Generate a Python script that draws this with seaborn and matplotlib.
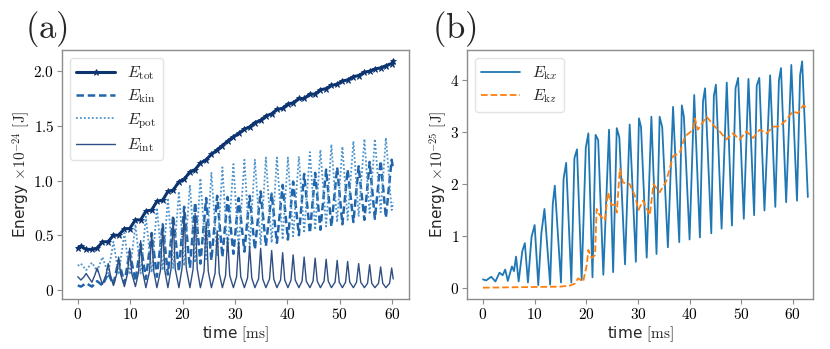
import matplotlib
matplotlib.use("Agg")
import matplotlib.pyplot as plt
from matplotlib.ticker import FuncFormatter
import seaborn as sns

# ---------------- data (a): energies x 1e-24 J vs time [ms] ----------------
t_a = [0, 0.6, 1.6, 2.7, 3.7, 4.7, 5.8, 6.8, 7.8, 8.9, 9.9, 11.0, 12.0, 13.0,
       14.1, 15.1, 16.2, 17.2, 18.2, 19.3, 20.3, 21.4, 22.4, 23.4, 24.5, 25.5,
       26.6, 27.6, 28.6, 29.7, 30.7, 31.8, 32.8, 33.8, 34.9, 35.9, 37.0, 38.0,
       39.1, 40.1, 41.1, 42.2, 43.2, 44.3, 45.3, 46.3, 47.4, 48.4, 49.5, 50.5,
       51.5, 52.6, 53.6, 54.7, 55.7, 56.7, 57.8, 58.8, 59.9, 60.2]

e_tot = [0.38, 0.40, 0.37, 0.37, 0.38, 0.44, 0.44, 0.50, 0.50, 0.56, 0.56, 0.64,
         0.64, 0.72, 0.73, 0.81, 0.82, 0.90, 0.91, 0.99, 1.01, 1.08, 1.10, 1.16,
         1.19, 1.24, 1.28, 1.32, 1.36, 1.40, 1.43, 1.47, 1.49, 1.53, 1.55, 1.59,
         1.61, 1.65, 1.66, 1.70, 1.71, 1.75, 1.75, 1.79, 1.79, 1.83, 1.84, 1.87,
         1.88, 1.91, 1.92, 1.95, 1.96, 1.99, 2.00, 2.02, 2.03, 2.05, 2.07, 2.09]

e_kin = [0.04, 0.03, 0.06, 0.03, 0.08, 0.04, 0.15, 0.05, 0.27, 0.06, 0.35, 0.08,
         0.42, 0.10, 0.52, 0.12, 0.60, 0.14, 0.68, 0.17, 0.76, 0.20, 0.80, 0.24,
         0.84, 0.27, 0.86, 0.30, 0.85, 0.33, 0.84, 0.35, 0.86, 0.37, 0.90, 0.40,
         0.88, 0.43, 0.96, 0.46, 0.99, 0.50, 1.06, 0.52, 1.07, 0.55, 1.10, 0.58,
         1.12, 0.60, 1.10, 0.62, 1.13, 0.64, 1.17, 0.65, 1.18, 0.66, 1.19, 1.10]

e_pot = [0.22, 0.24, 0.18, 0.25, 0.17, 0.30, 0.15, 0.44, 0.14, 0.52, 0.14, 0.60,
         0.15, 0.67, 0.16, 0.75, 0.18, 0.84, 0.20, 0.90, 0.22, 0.96, 0.25, 1.02,
         0.28, 1.07, 0.31, 1.12, 0.34, 1.15, 0.37, 1.19, 0.39, 1.19, 0.41, 1.21,
         0.43, 1.21, 0.46, 1.21, 0.49, 1.22, 0.52, 1.26, 0.55, 1.28, 0.58, 1.33,
         0.62, 1.31, 0.64, 1.36, 0.67, 1.38, 0.69, 1.38, 0.71, 1.39, 0.73, 0.80]

t_int = [0, 0.6,
         1.2, 1.6, 2.0, 2.7, 3.3, 3.7, 4.1, 4.7, 5.4, 5.8, 6.2, 6.8,
         7.4, 7.8, 8.2, 8.9, 9.5, 9.9, 10.3, 11.0, 11.6, 12.0, 12.4, 13.0,
         13.7, 14.1, 14.5, 15.1, 15.8, 16.2, 16.6, 17.2, 17.8, 18.2, 18.6, 19.3,
         19.9, 20.3, 20.7, 21.4, 22.0, 22.4, 22.8, 23.4, 24.1, 24.5, 24.9, 25.5,
         26.2, 26.6, 27.0, 27.6, 28.2, 28.6, 29.0, 29.7, 30.3, 30.7, 31.1, 31.8,
         32.4, 32.8, 33.2, 33.8, 34.5, 34.9, 35.3, 35.9, 36.6, 37.0, 37.4, 38.0,
         38.7, 39.1, 39.5, 40.1, 40.7, 41.1, 41.5, 42.2, 42.8, 43.2, 43.6, 44.3,
         44.9, 45.3, 45.7, 46.3, 47.0, 47.4, 47.8, 48.4, 49.1, 49.5, 49.9, 50.5,
         51.1, 51.5, 51.9, 52.6, 53.2, 53.6, 54.0, 54.7, 55.3, 55.7, 56.1, 56.7,
         57.4, 57.8, 58.2, 58.8, 59.5, 59.9, 60.2]

e_int = [0.12, 0.09,
         0.12, 0.15, 0.12, 0.07, 0.14, 0.20, 0.14, 0.05, 0.14, 0.24, 0.14, 0.04,
         0.14, 0.30, 0.14, 0.03, 0.15, 0.38, 0.15, 0.03, 0.16, 0.45, 0.16, 0.02,
         0.17, 0.52, 0.17, 0.02, 0.18, 0.58, 0.18, 0.02, 0.19, 0.66, 0.19, 0.02,
         0.20, 0.72, 0.20, 0.02, 0.19, 0.70, 0.19, 0.02, 0.17, 0.62, 0.17, 0.02,
         0.15, 0.54, 0.15, 0.02, 0.13, 0.48, 0.13, 0.02, 0.12, 0.44, 0.12, 0.02,
         0.11, 0.40, 0.11, 0.02, 0.10, 0.38, 0.10, 0.02, 0.10, 0.36, 0.10, 0.02,
         0.09, 0.34, 0.09, 0.02, 0.09, 0.32, 0.09, 0.02, 0.08, 0.30, 0.08, 0.02,
         0.08, 0.29, 0.08, 0.02, 0.08, 0.28, 0.08, 0.02, 0.07, 0.27, 0.07, 0.02,
         0.07, 0.26, 0.07, 0.02, 0.07, 0.24, 0.07, 0.02, 0.06, 0.23, 0.06, 0.02,
         0.06, 0.21, 0.06, 0.02, 0.06, 0.20, 0.10]

# ---------------- data (b): energies x 1e-25 J vs time [ms] ----------------
t_kx = [0, 0.6, 1.6, 2.4, 3.2, 3.8, 4.3, 4.8, 5.6, 6.0, 6.4, 6.9, 7.6, 8.1,
        8.7, 9.4, 10.0, 10.7, 11.3, 11.9, 13.0, 13.5, 13.9, 15.1, 15.6, 16.1,
        17.1, 17.7, 18.2, 19.1, 19.9, 20.4, 21.2, 21.8, 22.3, 23.3, 24.4, 25.2,
        25.9, 26.4, 27.5, 28.4, 29.6, 30.2, 30.6, 31.7, 32.6, 33.6, 34.2, 34.7,
        35.8, 36.8, 38.0, 38.5, 38.9, 40.0, 40.9, 42.0, 42.6, 43.0, 44.2, 44.7,
        45.1, 46.2, 47.2, 48.2, 48.9, 49.4, 50.5, 51.4, 52.5, 53.0, 53.5, 54.5,
        55.6, 56.6, 57.3, 57.7, 58.7, 59.7, 60.8, 61.4, 61.8, 62.9]
e_kx = [0.16, 0.14, 0.21, 0.12, 0.29, 0.24, 0.35, 0.13, 0.41, 0.32, 0.60, 0.12,
        0.70, 0.86, 0.10, 0.98, 1.21, 0.05, 1.05, 1.52, 0.06, 1.60, 1.97, 0.10,
        2.10, 2.41, 0.10, 2.50, 2.67, 0.15, 2.70, 2.98, 0.20, 2.95, 2.85, 0.25,
        3.05, 0.30, 3.08, 2.90, 0.45, 3.15, 0.50, 3.27, 3.10, 0.58, 3.30, 0.65,
        3.30, 3.10, 0.78, 3.49, 0.88, 3.52, 3.30, 0.93, 3.72, 0.97, 3.60, 3.85,
        1.05, 3.70, 3.92, 1.14, 3.96, 1.20, 3.85, 4.05, 1.33, 4.03, 1.40, 3.90,
        4.05, 1.49, 4.10, 1.56, 4.00, 4.24, 1.65, 4.30, 1.68, 4.10, 4.37, 1.75]

t_kz = [0, 14.9, 16.8, 17.8, 18.4, 19.4, 20.1, 20.4, 21.0, 21.7, 22.0, 22.6,
        23.6, 24.2, 24.9, 25.5, 25.9, 26.5, 27.1, 28.4, 29.4, 30.1, 31.0, 32.3,
        33.0, 34.2, 35.5, 36.8, 38.1, 39.1, 40.7, 41.0, 41.6, 43.3, 44.6, 45.8,
        47.1, 48.4, 49.7, 51.0, 52.3, 53.6, 54.9, 56.2, 57.4, 58.7, 60.0, 61.0,
        62.0, 62.9]
e_kz = [0.0, 0.02, 0.04, 0.08, 0.18, 0.12, 0.44, 0.73, 0.57, 0.63, 1.52, 1.40,
        1.30, 1.84, 1.60, 1.60, 1.45, 2.29, 2.03, 2.00, 1.78, 1.50, 1.68, 1.40,
        2.00, 1.84, 2.06, 2.54, 2.60, 2.92, 3.05, 3.27, 3.05, 3.30, 3.14, 3.02,
        2.86, 2.98, 2.86, 3.02, 2.89, 3.05, 2.98, 3.11, 3.11, 3.24, 3.40, 3.37,
        3.52, 3.46]

x_ticks = [0, 10, 20, 30, 40, 50, 60]
y_ticks_a = [0, 0.5, 1.0, 1.5, 2.0]
y_ticks_b = [0, 1, 2, 3, 4]

# ---------------- style ----------------
sns.set_theme(style="ticks")
plt.rcParams["font.family"] = ["DejaVu Sans"]
plt.rcParams["mathtext.fontset"] = "cm"
plt.rcParams["axes.edgecolor"] = "#8c8c8c"
plt.rcParams["xtick.color"] = "#8c8c8c"
plt.rcParams["ytick.color"] = "#8c8c8c"
plt.rcParams["xtick.labelcolor"] = "black"
plt.rcParams["ytick.labelcolor"] = "black"

fig = plt.figure(figsize=(8.3, 3.49), dpi=100)
ax_a = fig.add_axes([62 / 830, 50 / 349, 347 / 830, 249 / 349])
ax_b = fig.add_axes([467 / 830, 50 / 349, 346 / 830, 249 / 349])

c_tot, c_kin, c_pot, c_int = "#0c3470", "#2166ac", "#4d94cc", "#2f4f82"

sns.lineplot(x=t_a, y=e_tot, ax=ax_a, color=c_tot, lw=2.2, marker="*",
             markersize=4.5, markeredgewidth=0.6, markeredgecolor=c_tot,
             markerfacecolor=c_tot, label=r"$E_{\rm tot}$")
sns.lineplot(x=t_a, y=e_kin, ax=ax_a, color=c_kin, lw=1.8, ls=(0, (3, 1.5)),
             label=r"$E_{\rm kin}$")
sns.lineplot(x=t_a, y=e_pot, ax=ax_a, color=c_pot, lw=1.3, ls=(0, (1, 1.2)),
             label=r"$E_{\rm pot}$")
sns.lineplot(x=t_int, y=e_int, ax=ax_a, color=c_int, lw=1.0,
             label=r"$E_{\rm int}$")

sns.lineplot(x=t_kx, y=e_kx, ax=ax_b, color="#1f77b4", lw=1.3,
             label=r"$E_{{\rm k}x}$")
sns.lineplot(x=t_kz, y=e_kz, ax=ax_b, color="#ff7f0e", lw=1.3, ls="--",
             label=r"$E_{{\rm k}z}$")
ax_b.set_xlim(-3.1, 63.9)


def fmt_a(v, pos):
    return "$0$" if v == 0 else "$%.1f$" % v


def fmt_int(v, pos):
    return "$%d$" % v


for ax, yt, fmt, exp in [(ax_a, y_ticks_a, fmt_a, "-24"), (ax_b, y_ticks_b, fmt_int, "-25")]:
    ax.set_xticks(x_ticks)
    ax.set_yticks(yt)
    ax.xaxis.set_major_formatter(FuncFormatter(fmt_int))
    ax.yaxis.set_major_formatter(FuncFormatter(fmt))
    ax.tick_params(labelsize=11, length=3.5, width=0.8, pad=2)
    ax.set_xlabel(r"time $[\mathrm{ms}]$", fontsize=11, labelpad=2)
    ax.set_ylabel(r"Energy $\times 10^{%s}\ [\mathrm{J}]$" % exp, fontsize=11,
                  labelpad=1)
    for s in ax.spines.values():
        s.set_visible(True)
        s.set_linewidth(1.0)
    ax.legend(loc="upper left", fontsize=11.5, handlelength=2.4,
              labelspacing=0.35, frameon=True, fancybox=True, framealpha=0.8,
              edgecolor="#dddddd")

fig.text(25 / 830, 1 - 38 / 349, r"$(\mathrm{a})$", fontsize=25)
fig.text(432 / 830, 1 - 38 / 349, r"$(\mathrm{b})$", fontsize=25)

fig.savefig("out.png", dpi=100)
